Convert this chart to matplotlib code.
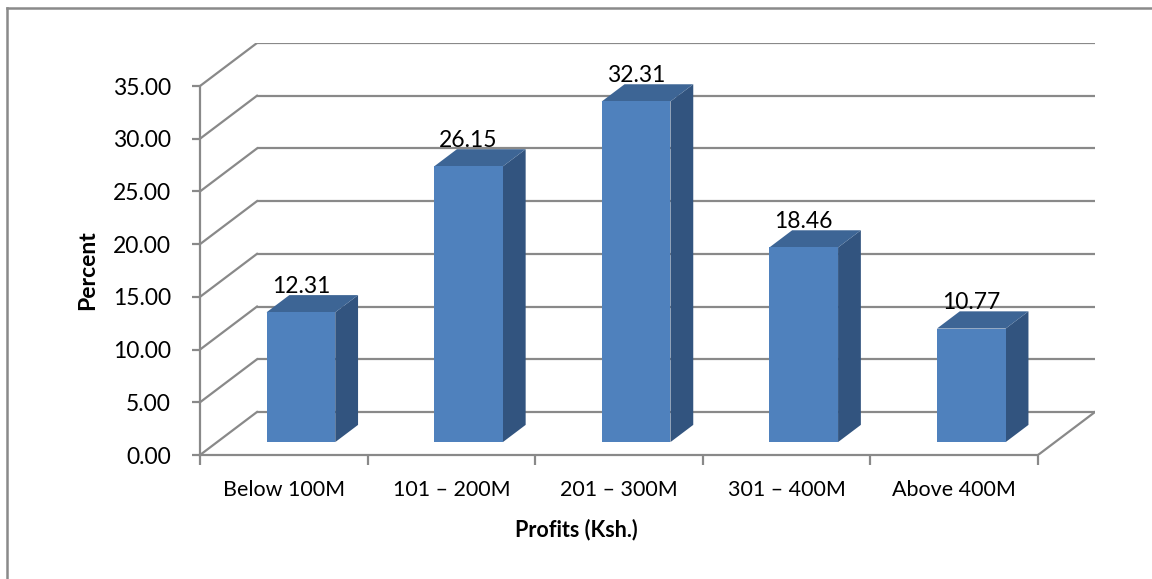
import numpy as np
import matplotlib
matplotlib.use("Agg")
import matplotlib.pyplot as plt
from matplotlib.patches import Polygon
from matplotlib.lines import Line2D

plt.rcParams['font.family'] = ['Lato', 'DejaVu Sans']

categories = ["Below 100M", "101 \u2013 200M", "201 \u2013 300M", "301 \u2013 400M", "Above 400M"]
percent = [12.31, 26.15, 32.31, 18.46, 10.77]
y_ticks = [0, 5, 10, 15, 20, 25, 30, 35]

# oblique "3D" depth offset, in data units
depth_x = 0.34
depth_y = 4.08
f0, f1 = 0.3, 0.7        # bar front / back depth fraction
half_w = 0.205

grid_col = "#898989"
front_col = "#4f81bd"
top_col = "#3d6595"
side_col = "#32547f"


def main():
    fig = plt.figure(figsize=(11.52, 5.79), dpi=100)
    W, H = 1152, 579
    ax = fig.add_axes([200 / W, 1 - 455 / H, (1095 - 200) / W, (455 - 43) / H])
    n = len(categories)
    ax.set_xlim(0, n + depth_x)
    ax.set_ylim(0, y_ticks[-1] + depth_y)
    for s in ax.spines.values():
        s.set_visible(False)

    # back wall and side wall grid
    for v in y_ticks:
        ax.plot([depth_x, n + depth_x], [v + depth_y, v + depth_y], color=grid_col, lw=1.6, zorder=1,
                solid_capstyle='butt')
        ax.plot([0, depth_x], [v, v + depth_y], color=grid_col, lw=1.6, zorder=1)
    # floor right edge and front axes
    ax.plot([n, n + depth_x], [0, depth_y], color=grid_col, lw=1.6, zorder=1)
    ax.plot([0, n], [0, 0], color=grid_col, lw=1.6, zorder=2, clip_on=False)
    ax.plot([0, 0], [0, y_ticks[-1]], color=grid_col, lw=1.6, zorder=2, clip_on=False)

    # bars
    for i, v in enumerate(percent):
        xl = i + 0.5 - half_w
        xr = i + 0.5 + half_w
        front = [(xl + f0 * depth_x, f0 * depth_y), (xr + f0 * depth_x, f0 * depth_y),
                 (xr + f0 * depth_x, v + f0 * depth_y), (xl + f0 * depth_x, v + f0 * depth_y)]
        side = [(xr + f0 * depth_x, f0 * depth_y), (xr + f1 * depth_x, f1 * depth_y),
                (xr + f1 * depth_x, v + f1 * depth_y), (xr + f0 * depth_x, v + f0 * depth_y)]
        top = [(xl + f0 * depth_x, v + f0 * depth_y), (xr + f0 * depth_x, v + f0 * depth_y),
               (xr + f1 * depth_x, v + f1 * depth_y), (xl + f1 * depth_x, v + f1 * depth_y)]
        ax.add_patch(Polygon(side, closed=True, facecolor=side_col, edgecolor='none', zorder=3))
        ax.add_patch(Polygon(top, closed=True, facecolor=top_col, edgecolor='none', zorder=3))
        ax.add_patch(Polygon(front, closed=True, facecolor=front_col, edgecolor='none', zorder=4))
        ax.text(i + 0.5 + f0 * depth_x, v + f1 * depth_y + 0.8, f"{v:.2f}",
                ha='center', va='center', fontsize=16.5, zorder=5)

    # ticks
    ax.set_yticks(y_ticks)
    ax.set_yticklabels([f"{v:.2f}" for v in y_ticks], fontsize=16.5)
    ax.tick_params(axis='y', length=6, width=1.6, color=grid_col, pad=15)
    ax.set_xticks(np.arange(n) + 0.5)
    ax.set_xticklabels(categories, fontsize=15.5)
    ax.tick_params(axis='x', which='major', length=0, pad=18)
    ax.set_xticks(np.arange(n + 1), minor=True)
    ax.tick_params(axis='x', which='minor', length=7, width=1.6, color=grid_col, direction='out')

    fig.text(88 / W, 1 - 270 / H, "Percent", rotation=90, ha='center', va='center',
             fontsize=16.5, fontweight='bold')
    fig.text(576 / W, 1 - 530 / H, "Profits (Ksh.)", ha='center', va='center',
             fontsize=15.5, fontweight='bold')

    # outer chart frame (top and left edges visible)
    fig.add_artist(Line2D([7 / W, 1], [1 - 8 / H, 1 - 8 / H], color="#8a8a8a", lw=1.8))
    fig.add_artist(Line2D([7 / W, 7 / W], [0, 1 - 8 / H], color="#8a8a8a", lw=1.8))

    fig.savefig("out.png", dpi=100)


if __name__ == "__main__":
    main()
